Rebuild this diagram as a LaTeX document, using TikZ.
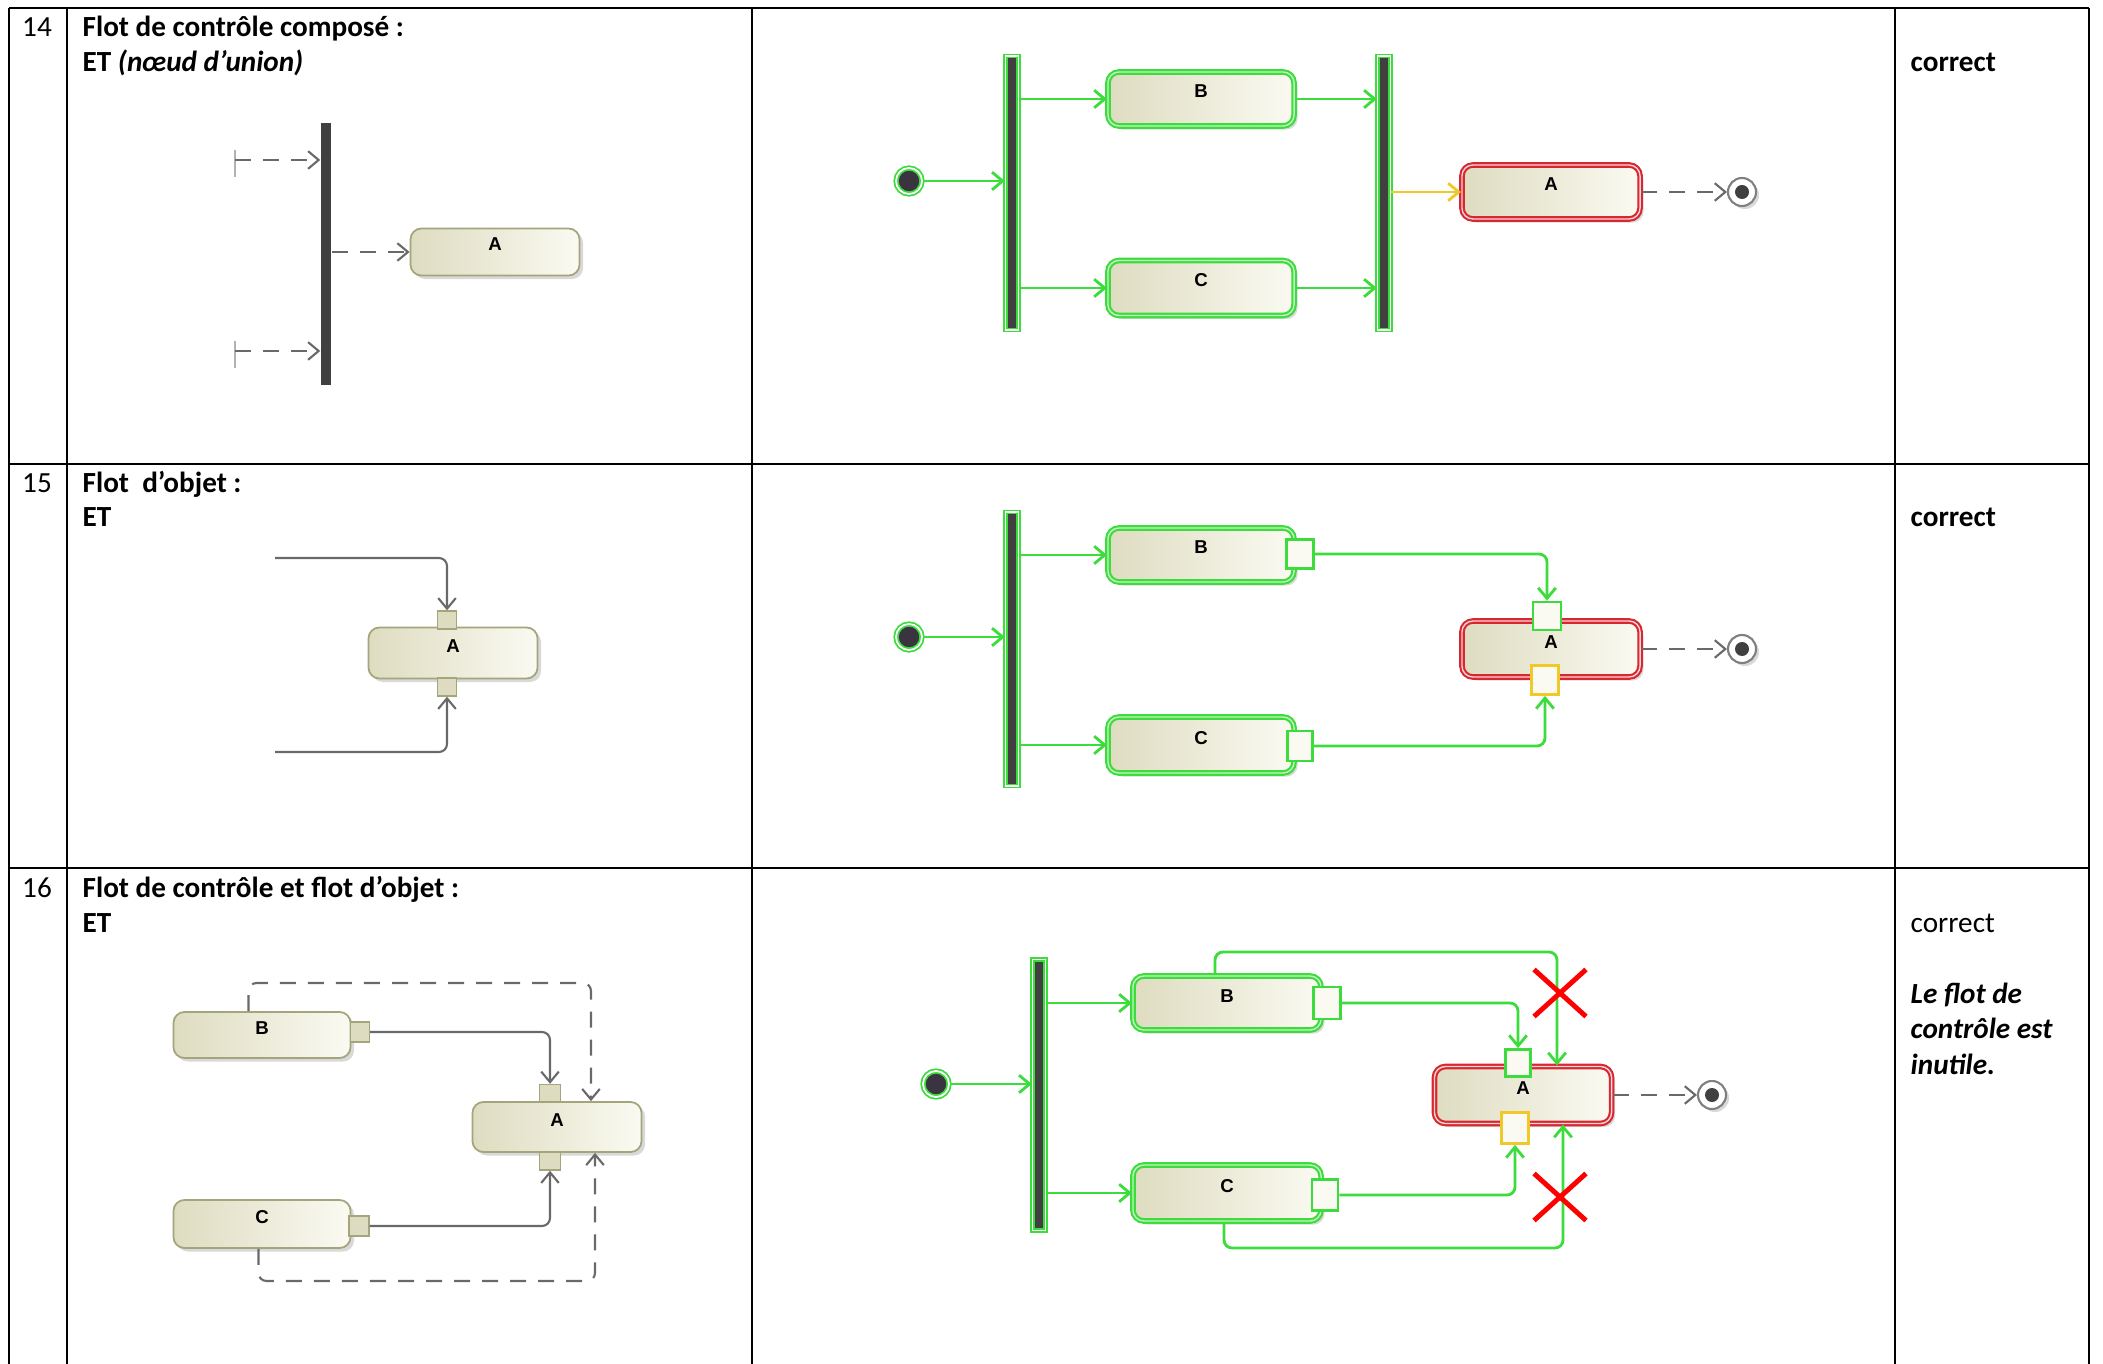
\documentclass[tikz,border=0pt]{standalone}
\usepackage{fontspec}
\setmainfont{Carlito}
\newfontfamily\umlfont{Liberation Sans}
\usetikzlibrary{arrows.meta, shadows, shapes.misc}

\definecolor{okgreen}{RGB}{60,220,60}
\definecolor{badred}{RGB}{215,40,50}
\definecolor{warnyellow}{RGB}{240,200,40}
\definecolor{beige}{RGB}{222,220,192}
\definecolor{beigelight}{RGB}{250,250,242}
\definecolor{olive}{RGB}{165,165,125}
\definecolor{bardark}{RGB}{64,64,64}
\definecolor{startdark}{RGB}{58,52,64}
\definecolor{linegray}{RGB}{105,105,105}

\tikzset{
	grid/.style={line width=0.6pt, black},
	txt/.style={anchor=base west, inner sep=0pt, font=\fontsize{8.3}{10}\selectfont},
	num/.style={anchor=base, inner sep=0pt, font=\fontsize{8.3}{10}\selectfont},
	act/.style={rectangle, rounded corners=0.11cm, inner sep=0pt, draw=olive, line width=0.5pt,
		left color=beige, right color=beigelight,
		drop shadow={shadow xshift=0.035cm, shadow yshift=-0.035cm, opacity=0.3},
		font=\umlfont\bfseries\fontsize{5.3}{6}\selectfont, text height=0.13cm, text depth=0.15cm},
	actok/.style={act, draw=okgreen, line width=0.6pt, double=okgreen!30, double distance=0.4pt},
	actbad/.style={act, draw=badred, line width=0.6pt, double=badred!20, double distance=0.4pt},
	bar/.style={rectangle, fill=bardark, inner sep=0pt, minimum width=0.1cm},
	barok/.style={bar, draw=okgreen, line width=0.4pt, double=white, double distance=0.4pt, minimum width=0.13cm},
	pin/.style={rectangle, inner sep=0pt, fill=beige, draw=olive, line width=0.4pt},
	pinok/.style={pin, fill=beigelight, draw=okgreen, line width=0.8pt},
	pinwarn/.style={pinok, draw=warnyellow},
	start/.style={circle, inner sep=0pt, minimum size=0.26cm, fill=startdark,
		draw=okgreen, line width=0.5pt, double=white, double distance=0.5pt},
	stop/.style={circle, inner sep=0pt, minimum size=0.28cm, fill=white, draw=gray, line width=0.6pt,
		drop shadow={shadow xshift=0.03cm, shadow yshift=-0.03cm, opacity=0.3},
		path picture={\fill[bardark] (path picture bounding box.center) circle (0.07cm);}},
	flow/.style={->, draw=okgreen, line width=0.8pt, rounded corners=0.08cm},
	objline/.style={->, draw=linegray, line width=0.6pt, rounded corners=0.08cm},
	ctrlline/.style={objline, dash pattern=on 0.16cm off 0.12cm},
	tick/.style={draw=gray!60, line width=0.4pt},
	nogo/.style={cross out, draw=red, line width=1.4pt, inner sep=0pt, minimum width=0.47cm, minimum height=0.42cm}
}

\begin{document}
\begin{tikzpicture}[x=0.01cm, y=-0.01cm,
			>={Straight Barb[length=3pt,width=5pt]}]
			\useasboundingbox (0,0) rectangle (2103,1364);

			% table
			\foreach \x in {9,67,752,1895,2089}
				\draw[grid] (\x,8) -- (\x,1364);
			\foreach \y in {8,464,868}
				\draw[grid] (9,\y) -- (2089,\y);

			% texts
			\node at (37,37) (n14) [num] {14};
			\node at (82,37) (h14a) [txt] {\bfseries Flot de contrôle composé :};
			\node at (82,72) (h14b) [txt] {\bfseries ET \textit{(nœud d’union)}};
			\node at (1910,72) (r14) [txt] {\bfseries correct};
			\node at (37,492) (n15) [num] {15};
			\node at (82,492) (h15a) [txt] {\bfseries Flot~~d’objet :};
			\node at (82,527) (h15b) [txt] {\bfseries ET};
			\node at (1910,527) (r15) [txt] {\bfseries correct};
			\node at (37,897) (n16) [num] {16};
			\node at (82,897) (h16a) [txt] {\bfseries Flot de contrôle et flot d’objet :};
			\node at (82,932) (h16b) [txt] {\bfseries ET};
			\node at (1910,932) (r16) [txt] {correct};
			\node at (1910,1003) (r16a) [txt] {\bfseries\itshape Le flot de};
			\node at (1910,1038) (r16b) [txt] {\bfseries\itshape contrôle est};
			\node at (1910,1074) (r16c) [txt] {\bfseries\itshape inutile.};

			% 14, left
			\node at (326,254) (bar14) [bar, minimum height=2.62cm] {};
			\node at (495,252) (a14) [act, minimum width=1.69cm, minimum height=0.47cm] {A};
			\coordinate (in1) at (235,160);
			\coordinate (in2) at (235,351);
			\draw[tick] ([yshift=0.1cm]in1) -- ([yshift=-0.17cm]in1);
			\draw[tick] ([yshift=0.1cm]in2) -- ([yshift=-0.17cm]in2);
			\draw[ctrlline] (in1) -- (in1 -| bar14.west);
			\draw[ctrlline] (in2) -- (in2 -| bar14.west);
			\draw[ctrlline] (bar14.east |- a14) -- (a14.west);

			% 14, right
			\node at (909,181) (ini14) [start] {};
			\node at (1012,193) (fork14) [barok, minimum height=2.74cm] {};
			\node at (1201,99) (b14) [actok, minimum width=1.86cm, minimum height=0.54cm] {B};
			\node at (1201,288) (c14) [actok, minimum width=1.86cm, minimum height=0.55cm] {C};
			\node at (1384,193) (join14) [barok, minimum height=2.74cm] {};
			\node at (1551,192) (a14r) [actbad, minimum width=1.78cm, minimum height=0.54cm] {A};
			\node at (1742,192) (fin14) [stop] {};
			\draw[flow] (ini14) -- (ini14 -| fork14.west);
			\draw[flow] (fork14.east |- b14) -- (b14.west);
			\draw[flow] (fork14.east |- c14) -- (c14.west);
			\draw[flow] (b14.east) -- (b14 -| join14.west);
			\draw[flow] (c14.east) -- (c14 -| join14.west);
			\draw[flow, draw=warnyellow] (join14.east |- a14r) -- (a14r.west);
			\draw[ctrlline] (a14r.east) -- (fin14);

			% 15, left
			\node at (453,653) (a15) [act, minimum width=1.69cm, minimum height=0.51cm] {A};
			\node at (447,620) (a15t) [pin, minimum width=0.19cm, minimum height=0.18cm] {};
			\node at (447,687) (a15b) [pin, minimum width=0.19cm, minimum height=0.18cm] {};
			\coordinate (in3) at (275,558);
			\coordinate (in4) at (275,752);
			\draw[objline] (in3) -| (a15t.north);
			\draw[objline] (in4) -| (a15b.south);

			% 15, right
			\node at (909,637) (ini15) [start] {};
			\node at (1012,649) (fork15) [barok, minimum height=2.74cm] {};
			\node at (1201,555) (b15) [actok, minimum width=1.86cm, minimum height=0.54cm] {B};
			\node at (1300,554) (b15p) [pinok, minimum width=0.27cm, minimum height=0.29cm] {};
			\node at (1201,745) (c15) [actok, minimum width=1.86cm, minimum height=0.56cm] {C};
			\node at (1300,746) (c15p) [pinok, minimum width=0.25cm, minimum height=0.3cm] {};
			\node at (1551,649) (a15r) [actbad, minimum width=1.78cm, minimum height=0.56cm] {A};
			\node at (1547,616) (a15rt) [pinok, minimum width=0.28cm, minimum height=0.28cm] {};
			\node at (1545,680) (a15rb) [pinwarn, minimum width=0.27cm, minimum height=0.29cm] {};
			\node at (1742,649) (fin15) [stop] {};
			\draw[flow] (ini15) -- (ini15 -| fork15.west);
			\draw[flow] (fork15.east |- b15) -- (b15.west);
			\draw[flow] (fork15.east |- c15) -- (c15.west);
			\draw[flow] (b15p.east) -| (a15rt.north);
			\draw[flow] (c15p.east) -| (a15rb.south);
			\draw[ctrlline] (a15r.east) -- (fin15);

			% 16, left
			\node at (262,1035) (b16) [act, minimum width=1.77cm, minimum height=0.46cm] {B};
			\node at (360,1032) (b16p) [pin, minimum width=0.19cm, minimum height=0.2cm] {};
			\node at (262,1224) (c16) [act, minimum width=1.77cm, minimum height=0.48cm] {C};
			\node at (359,1226) (c16p) [pin, minimum width=0.2cm, minimum height=0.2cm] {};
			\node at (557,1127) (a16) [act, minimum width=1.69cm, minimum height=0.5cm] {A};
			\node at (550,1093) (a16t) [pin, minimum width=0.21cm, minimum height=0.17cm] {};
			\node at (550,1161) (a16b) [pin, minimum width=0.21cm, minimum height=0.18cm] {};
			\coordinate (k16a) at (591,983);
			\coordinate (k16b) at (595,1281);
			\draw[objline] (b16p.east) -| (a16t.north);
			\draw[objline] (c16p.east) -| (a16b.south);
			\draw[ctrlline] ([xshift=-0.135cm]b16.north) |- (k16a) -- (k16a |- a16.north);
			\draw[ctrlline] ([xshift=-0.035cm]c16.south) |- (k16b) -- (k16b |- a16.south);

			% 16, right
			\node at (936,1084) (ini16) [start] {};
			\node at (1039,1095) (fork16) [barok, minimum height=2.71cm] {};
			\node at (1227,1003) (b16r) [actok, minimum width=1.88cm, minimum height=0.54cm] {B};
			\node at (1327,1003) (b16rp) [pinok, minimum width=0.27cm, minimum height=0.32cm] {};
			\node at (1227,1193) (c16r) [actok, minimum width=1.88cm, minimum height=0.56cm] {C};
			\node at (1325,1195) (c16rp) [pinok, minimum width=0.26cm, minimum height=0.31cm] {};
			\node at (1523,1095) (a16r) [actbad, minimum width=1.77cm, minimum height=0.57cm] {A};
			\node at (1518,1063) (a16rt) [pinok, minimum width=0.25cm, minimum height=0.27cm] {};
			\node at (1515,1128) (a16rb) [pinwarn, minimum width=0.27cm, minimum height=0.31cm] {};
			\node at (1712,1095) (fin16) [stop] {};
			\coordinate (k16c) at (1557,952);
			\coordinate (k16d) at (1563,1248);
			\draw[flow] (ini16) -- (ini16 -| fork16.west);
			\draw[flow] (fork16.east |- b16r) -- (b16r.west);
			\draw[flow] (fork16.east |- c16r) -- (c16r.west);
			\draw[flow] (b16rp.east) -| (a16rt.north);
			\draw[flow] (c16rp.east) -| (a16rb.south);
			\draw[flow] ([xshift=-0.12cm]b16r.north) |- (k16c) -- (k16c |- a16r.north);
			\draw[flow] ([xshift=-0.03cm]c16r.south) |- (k16d) -- (k16d |- a16r.south);
			\draw[ctrlline] (a16r.east) -- (fin16);
			\node at (1560,993) (x1) [nogo] {};
			\node at (1560,1197) (x2) [nogo] {};
		\end{tikzpicture}
\end{document}
